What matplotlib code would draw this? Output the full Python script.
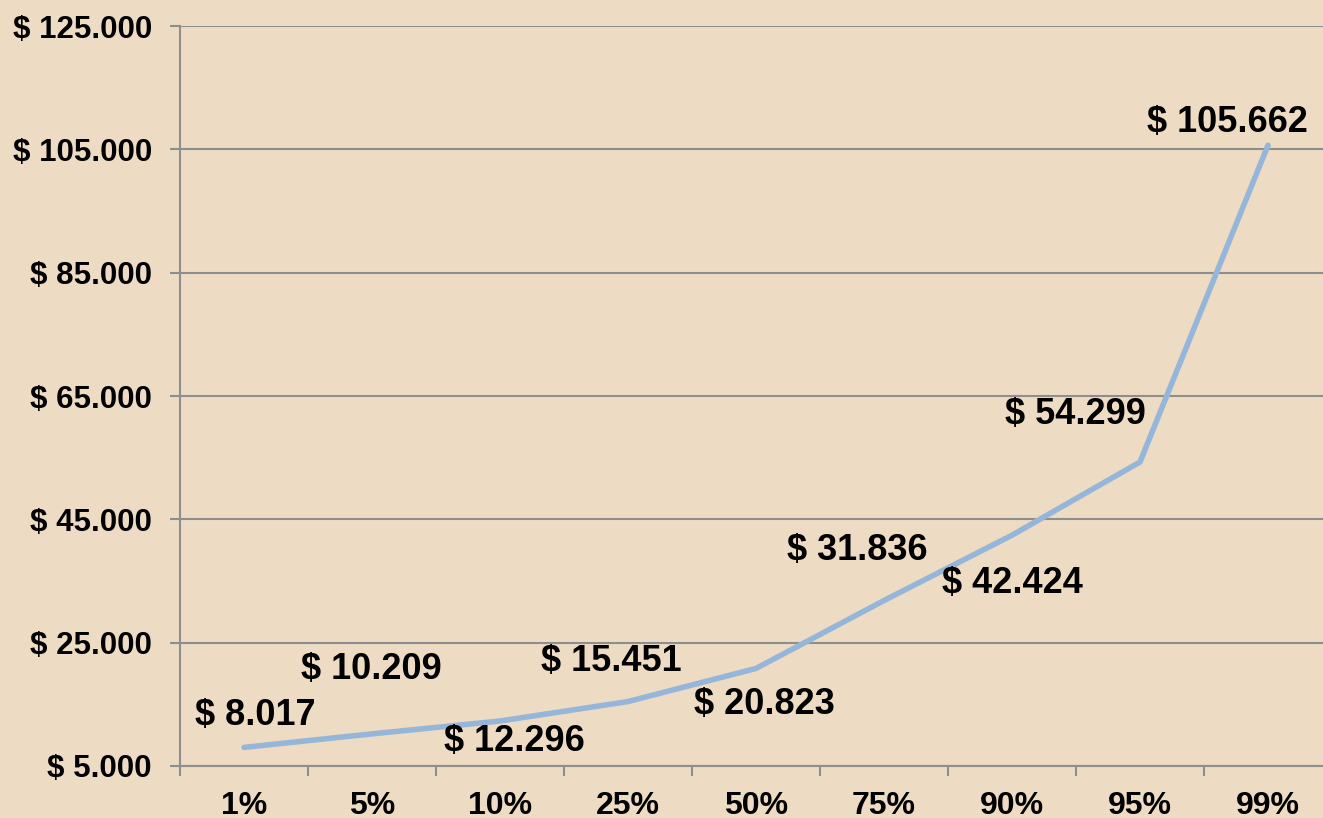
import numpy as np
import matplotlib
matplotlib.use('Agg')
import matplotlib.pyplot as plt

percentiles = ['1%', '5%', '10%', '25%', '50%', '75%', '90%', '95%', '99%']
incomes = [8017, 10209, 12296, 15451, 20823, 31836, 42424, 54299, 105662]
income_labels = ['$ 8.017', '$ 10.209', '$ 12.296', '$ 15.451', '$ 20.823',
                 '$ 31.836', '$ 42.424', '$ 54.299', '$ 105.662']
# label offsets in pixels relative to the point (dx, dy)
label_offsets = [(11, 32), (-1, 64), (14, -20), (-17, 40), (8, -36),
                 (-27, 50), (0, -48), (-65, 47), (-41, 23)]
y_ticks = [5000, 25000, 45000, 65000, 85000, 105000, 125000]
y_ticklabels = ['$ 5.000', '$ 25.000', '$ 45.000', '$ 65.000',
                '$ 85.000', '$ 105.000', '$ 125.000']

bg = '#EDDCC3'
grid_c = '#8E8E8E'
line_c = '#95B6D9'

plt.rcParams['font.family'] = ['Liberation Sans', 'DejaVu Sans']
plt.rcParams['font.weight'] = 'bold'

fig = plt.figure(figsize=(13.23, 8.18), dpi=100, facecolor=bg)
ax = fig.add_axes([180 / 1323, 52 / 818, 1152 / 1323, 740 / 818])
ax.set_facecolor(bg)

x = np.arange(len(percentiles))
ax.plot(x, incomes, color=line_c, lw=4, solid_capstyle='round', zorder=3)

for xi, yi, lab, (dx, dy) in zip(x, incomes, income_labels, label_offsets):
    ax.annotate(lab, (xi, yi), xytext=(dx, dy), textcoords='offset pixels',
                ha='center', va='center', fontsize=26, fontweight='bold',
                color='black', zorder=4)

ax.set_xlim(-0.5, len(percentiles) - 0.5)
ax.set_ylim(5000, 125000)

ax.set_yticks(y_ticks)
ax.set_yticklabels(y_ticklabels, fontsize=22.5, fontweight='bold')
ax.yaxis.grid(True, color=grid_c, lw=1.5)
ax.set_axisbelow(True)

ax.set_xticks(np.arange(-0.5, len(percentiles), 1.0))
ax.set_xticklabels([])
ax.set_xticks(x, minor=True)
ax.set_xticklabels(percentiles, minor=True, fontsize=23, fontweight='bold')
ax.tick_params(axis='x', which='minor', length=0, pad=18)
ax.tick_params(axis='x', which='major', length=7.2, width=1.5, color=grid_c)
ax.tick_params(axis='y', length=7.2, width=1.5, color=grid_c, pad=13)

for side in ['top', 'right']:
    ax.spines[side].set_visible(False)
for side in ['left', 'bottom']:
    ax.spines[side].set_color(grid_c)
    ax.spines[side].set_linewidth(1.5)

fig.savefig('out.png', dpi=100, facecolor=bg)
